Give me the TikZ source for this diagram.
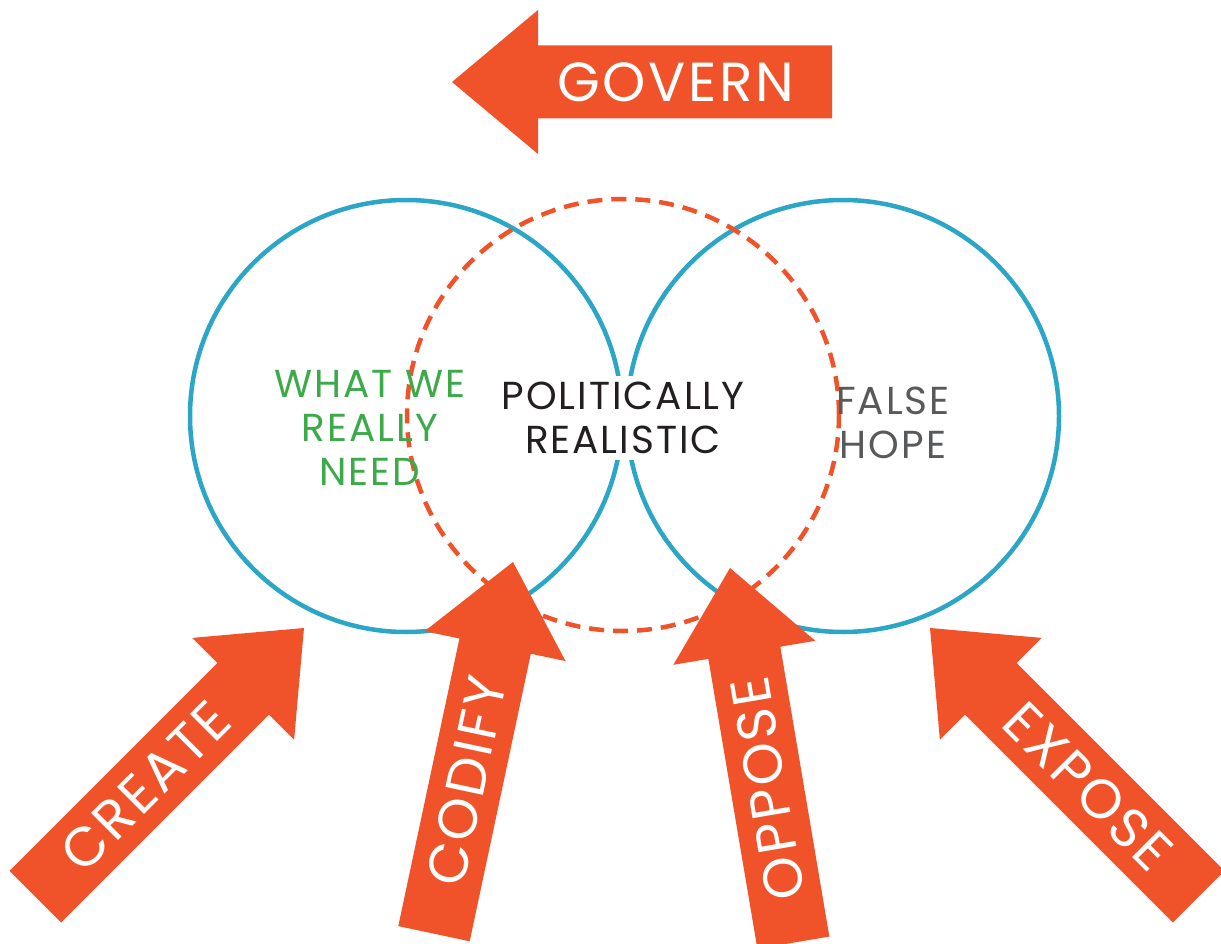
\documentclass[tikz,border=0pt]{standalone}
\usepackage{fontspec}
\setmainfont{Poppins}
\newfontfamily\spacedfont[LetterSpace=5]{Poppins}
\usepackage{tikz}
\usetikzlibrary{arrows.meta}
\usetikzlibrary{calc}

\definecolor{govorange}{RGB}{240,82,41}
\definecolor{ringblue}{RGB}{43,166,198}
\definecolor{needgreen}{RGB}{61,170,73}
\definecolor{hopegray}{RGB}{88,89,91}
\definecolor{textdark}{RGB}{35,31,32}

\tikzset{
  ring/.style={circle,draw=ringblue,line width=4.5pt,minimum size=432pt,inner sep=0pt},
  dashring/.style={circle,draw=govorange,line width=4.5pt,dash pattern=on 15pt off 9pt,minimum size=432pt,inner sep=0pt},
  ringtext/.style={align=center,inner sep=0pt,font=\spacedfont\fontsize{39}{44}\selectfont},
  arrowlabel/.style={text=white,inner sep=0pt,font=\spacedfont\fontsize{55}{60}\selectfont},
  pics/bigarrow/.style 2 args={code={
    \fill[govorange] (0,0) -- (-86,-72) -- (-86,-36.5) -- (-380,-36.5)
      -- (-380,36.5) -- (-86,36.5) -- (-86,72) -- cycle;
    \node[arrowlabel,rotate=#2] (-text) at (-224,0) {#1};
  }}
}

\begin{document}
\begin{tikzpicture}[x=1pt,y=-1pt]
\useasboundingbox (0,0) rectangle (1221,944);
% the three circles
\node[ring] (want) at (406,416) {};
\node[ring] (false) at (843,416) {};
\node[dashring] (real) at (623,415) {};
% texts inside
\node[ringtext,text=needgreen] (need) at (370,428) {WHAT WE\\REALLY\\NEED};
\node[ringtext,text=textdark,fill=white,inner sep=6pt] (realistic) at (623,418) {POLITICALLY\\REALISTIC};
\node[ringtext,text=hopegray] (hope) at (893,423) {FALSE\\HOPE};
% the arrows
\pic (govern) [rotate=180] at (452,82) {bigarrow={GOVERN}{0}};
\pic (create) [rotate=45] at (304,628) {bigarrow={CREATE}{45}};
\pic (codify) [rotate=78] at (513,562) {bigarrow={CODIFY}{78}};
\pic (oppose) [rotate=99.6] at (730,568) {bigarrow={OPPOSE}{99.6}};
\pic (expose) [rotate=135] at (930,628) {bigarrow={EXPOSE}{-45}};
\end{tikzpicture}
\end{document}
